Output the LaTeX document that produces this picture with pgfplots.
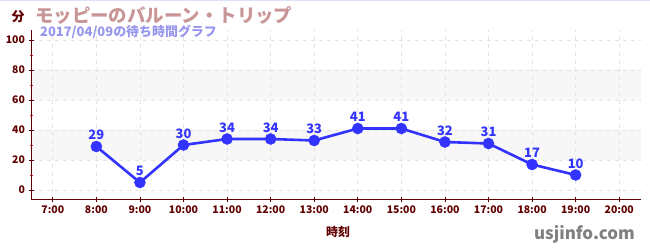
\documentclass[border=0pt]{standalone}
\usepackage{pgfplots}
\pgfplotsset{compat=1.18}
\usepackage{fontspec}
\setmainfont{Noto Sans CJK JP}
\definecolor{axred}{RGB}{96,0,0}
\definecolor{minred}{RGB}{220,40,40}
\definecolor{lineblue}{RGB}{51,51,255}
\definecolor{titlerose}{RGB}{200,150,150}
\definecolor{subblue}{RGB}{150,150,238}
\definecolor{band}{RGB}{247,247,247}
\definecolor{gridc}{RGB}{228,228,228}
\definecolor{topline}{RGB}{224,224,248}
\begin{document}
\begin{tikzpicture}
\begin{axis}[
  set layers,
  at={(31bp,50bp)}, anchor=south west, scale only axis,
  width=610bp, height=170bp,
  xmin=6.5, xmax=20.5, ymin=-6.67, ymax=106.67,
  axis x line*=bottom, axis y line*=left,
  axis line style={axred, line width=1bp},
  xtick={7,...,20},
  xticklabels={7:00,8:00,9:00,10:00,11:00,12:00,13:00,14:00,15:00,16:00,17:00,18:00,19:00,20:00},
  ytick={0,20,40,60,80,100},
  minor ytick={10,30,50,70,90},
  tick align=center,
  major tick length=5bp,
  minor tick length=3bp,
  every tick/.style={axred, line width=0.8bp},
  minor tick style={minred, line width=0.8bp},
  tick label style={font=\fontsize{10.5}{12}\selectfont\bfseries, text=axred},
  /pgf/number format/assume math mode=true,
  xmajorgrids, ymajorgrids,
  major grid style={gridc, dash pattern=on 4bp off 4bp, line width=0.8bp},
  clip=false,
]
\addplot[band, fill=band, draw=none, on layer=axis background] coordinates {(6.5,20) (20.5,20) (20.5,40) (6.5,40)} -- cycle;
\addplot[band, fill=band, draw=none, on layer=axis background] coordinates {(6.5,60) (20.5,60) (20.5,80) (6.5,80)} -- cycle;
\addplot[lineblue, line width=2.6bp, mark=*, mark size=5.5bp, mark options={fill=lineblue, draw=lineblue, line width=0.5bp},
  nodes near coords,
  nodes near coords style={font=\fontsize{13}{14}\selectfont\bfseries, text=lineblue, anchor=south, yshift=3bp}] coordinates {
(8,29) (9,5) (10,30) (11,34) (12,34) (13,33) (14,41) (15,41) (16,32) (17,31) (18,17) (19,10)
};
\end{axis}
\draw[topline, line width=1.2bp] (0bp,249.4bp) -- (650bp,249.4bp);
\node[text=axred, font=\fontsize{13}{14}\selectfont\bfseries] at (18bp,233bp) {分};
\node[anchor=west, text=titlerose, font=\fontsize{18.5}{20}\selectfont\bfseries, inner sep=0] at (35bp,235bp) {モッピーのバルーン・トリップ};
\node[anchor=west, text=subblue, font=\fontsize{13}{14}\selectfont\bfseries, inner sep=0] at (40bp,218bp) {2017/04/09の待ち時間グラフ};
\node[text=axred, font=\fontsize{12}{13}\selectfont\bfseries] at (338bp,18bp) {時刻};
\node[anchor=east, text=gray, font=\fontsize{17}{18}\selectfont\bfseries, inner sep=0] at (635bp,16bp) {usjinfo.com};
\pgfresetboundingbox
\path[use as bounding box] (0bp,0bp) rectangle (650bp,250bp);
\end{tikzpicture}
\end{document}
